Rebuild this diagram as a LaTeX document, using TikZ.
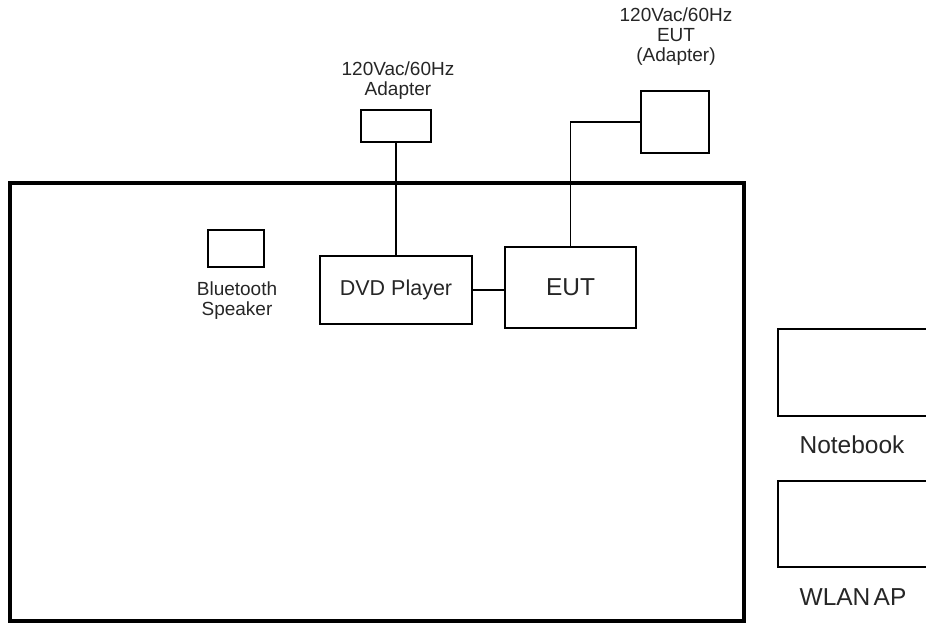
\documentclass[tikz,border=0pt]{standalone}
\usepackage{fontspec}
\setmainfont{Liberation Sans}
\begin{document}
\begin{tikzpicture}[x=1pt,y=-1pt,
  box/.style={draw,line width=1.8pt,inner sep=0pt,rectangle},
  wire/.style={line width=1.8pt},
  lbl/.style={inner sep=0pt,align=center,text=black!85},
  small/.style={lbl,font=\fontsize{19}{20}\selectfont},
  mid/.style={lbl,font=\fontsize{21.5}{23}\selectfont},
  big/.style={lbl,font=\fontsize{24.5}{26}\selectfont}]
\useasboundingbox (0,0) rectangle (926,623);
\clip (0,0) rectangle (926,623);
% room frame
\node[box,line width=4pt,minimum width=734pt,minimum height=438pt] (frame) at (377,402) {};
% devices
\node[box,minimum width=56pt,minimum height=37pt] (bt) at (236,248.5) {};
\node[small,anchor=center] (btl) at (237,301) {Bluetooth\\Speaker};
\node[box,minimum width=152pt,minimum height=68pt,mid] (dvd) at (396,290) {DVD Player};
\node[box,minimum width=131pt,minimum height=81pt,big] (eut) at (570.5,287.5) {EUT};
\node[box,minimum width=70pt,minimum height=32pt] (ad1) at (396,126) {};
\node[small] (ad1l) at (398,81) {120Vac/60Hz\\Adapter};
\node[box,minimum width=68pt,minimum height=62pt] (ad2) at (675,122) {};
\node[small] (ad2l) at (676,37) {120Vac/60Hz\\EUT\\(Adapter)};
\node[box,minimum width=160pt,minimum height=87pt] (nb) at (858,372.5) {};
\node[big] (nbl) at (852,445) {Notebook};
\node[box,minimum width=160pt,minimum height=86pt] (ap) at (858,524) {};
\node[big] (apl) at (853,597) {WLAN\kern-3.5pt\ AP};
% connectors
\draw[wire] (dvd.east) -- (dvd.east -| eut.west);
\draw[wire] (ad1.south) -- (ad1.south |- dvd.north);
\draw[wire] (eut.north) |- (ad2.west);
\end{tikzpicture}
\end{document}
